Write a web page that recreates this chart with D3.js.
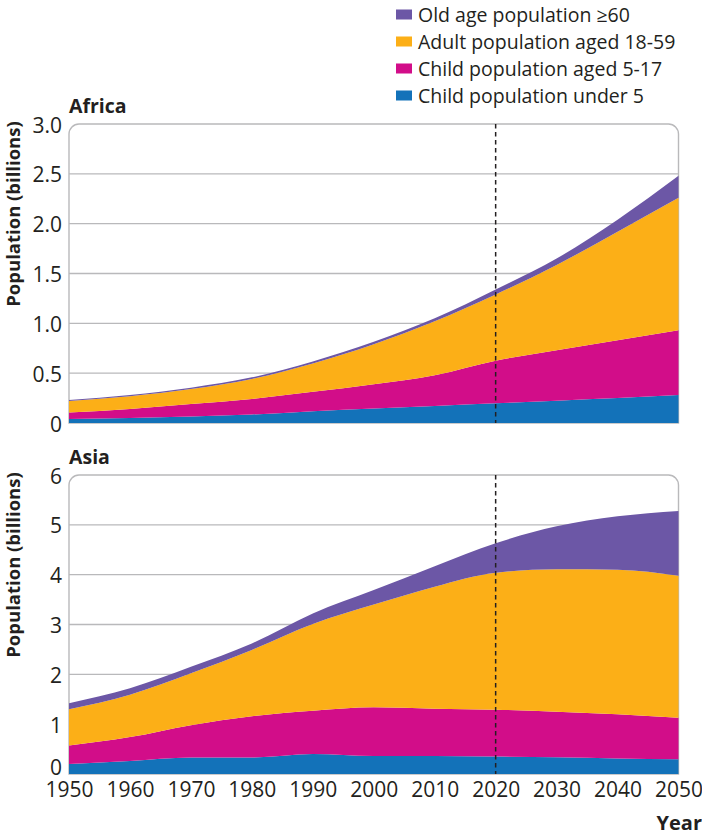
<!DOCTYPE html>
<html>
<head>
<meta charset="utf-8">
<script src="https://cdn.jsdelivr.net/npm/d3@7/dist/d3.min.js"></script>
<style>
  html, body { margin: 0; padding: 0; background: #fff; }
  svg { display: block; }
  text { font-family: "Open Sans", "DejaVu Sans", sans-serif; fill: #231f20; }
</style>
</head>
<body>
<svg id="chart" width="702" height="837"></svg>
<script>
// ---------- DATA ----------
const years = [1950, 1960, 1970, 1980, 1990, 2000, 2010, 2020, 2030, 2040, 2050];

// Africa (billions)
const africaUnder5   = [0.040, 0.050, 0.065, 0.085, 0.118, 0.145, 0.170, 0.197, 0.224, 0.250, 0.280];
const africaAged5_17 = [0.065, 0.090, 0.125, 0.157, 0.196, 0.245, 0.310, 0.428, 0.506, 0.580, 0.650];
const africaAdult    = [0.115, 0.128, 0.150, 0.200, 0.284, 0.400, 0.540, 0.665, 0.855, 1.090, 1.330];
const africaOld      = [0.010, 0.012, 0.014, 0.016, 0.020, 0.025, 0.030, 0.050, 0.065, 0.120, 0.220];

// Asia (billions)
const asiaUnder5   = [0.20, 0.26, 0.33, 0.33, 0.40, 0.36, 0.36, 0.35, 0.335, 0.31, 0.295];
const asiaAged5_17 = [0.37, 0.48, 0.65, 0.83, 0.87, 0.98, 0.95, 0.94, 0.915, 0.89, 0.835];
const asiaAdult    = [0.73, 0.85, 1.04, 1.33, 1.74, 2.06, 2.45, 2.75, 2.86, 2.90, 2.85];
const asiaOld      = [0.12, 0.13, 0.13, 0.13, 0.21, 0.29, 0.41, 0.59, 0.86, 1.07, 1.30];

const seriesKeys   = ["under5", "aged5_17", "adult", "old"];
const legendLabels = ["Old age population \u226560", "Adult population aged 18-59", "Child population aged 5-17", "Child population under 5"];
const legendKeys   = ["old", "adult", "aged5_17", "under5"];
const colors = { old: "#6c57a6", adult: "#fcaf17", aged5_17: "#d20d89", under5: "#1372b9" };

const xTicks = [1950, 1960, 1970, 1980, 1990, 2000, 2010, 2020, 2030, 2040, 2050];
const africaYTicks = [0, 0.5, 1.0, 1.5, 2.0, 2.5, 3.0];
const asiaYTicks   = [0, 1, 2, 3, 4, 5, 6];
const projectionYear = 2020;

// ---------- LAYOUT ----------
const svg = d3.select("#chart");
const left = 69, right = 678.5;
const x = d3.scaleLinear().domain([1950, 2050]).range([left, right]);

function rows(u5, c, a, o) {
  return years.map((yr, i) => ({ year: yr, under5: u5[i], aged5_17: c[i], adult: a[i], old: o[i] }));
}

function panel(cfg) {
  const g = svg.append("g");
  const y = d3.scaleLinear().domain([0, cfg.max]).range([cfg.bottom, cfg.top]);
  const r = 10;

  // gridlines
  g.selectAll("line.grid").data(cfg.ticks.filter(t => t > 0 && t < cfg.max)).join("line")
    .attr("x1", left).attr("x2", right)
    .attr("y1", d => y(d)).attr("y2", d => y(d))
    .attr("stroke", "#b9b9bb").attr("stroke-width", 1.4);

  // frame with rounded top corners
  g.append("path")
    .attr("d", `M${left},${cfg.bottom} V${cfg.top + r} A${r},${r} 0 0 1 ${left + r},${cfg.top} H${right - r} A${r},${r} 0 0 1 ${right},${cfg.top + r} V${cfg.bottom} Z`)
    .attr("fill", "none").attr("stroke", "#b9b9bb").attr("stroke-width", 1.4);

  // stacked areas
  const data = rows(...cfg.series);
  const stack = d3.stack().keys(seriesKeys)(data);
  const area = d3.area()
    .x(d => x(d.data.year))
    .y0(d => y(d[0])).y1(d => y(d[1]))
    .curve(d3.curveMonotoneX);
  g.selectAll("path.layer").data(stack).join("path")
    .attr("fill", d => colors[d.key])
    .attr("d", area);

  // dashed projection line
  g.append("line")
    .attr("x1", x(projectionYear)).attr("x2", x(projectionYear))
    .attr("y1", cfg.top).attr("y2", cfg.bottom)
    .attr("stroke", "#231f20").attr("stroke-width", 1.5).attr("stroke-dasharray", "4.5,3.5");

  // y tick labels
  const yAxis = d3.axisLeft(y).tickValues(cfg.ticks).tickSize(0).tickPadding(6)
    .tickFormat(cfg.fmt);
  const ya = g.append("g").attr("transform", `translate(${left},0)`).call(yAxis);
  ya.select(".domain").remove();
  ya.selectAll("text").attr("font-size", 21).attr("font-family", "'Open Sans', sans-serif")
    .attr("fill", "#231f20").attr("dx", -1)
    .attr("dy", d => (d === 0 ? (cfg.zeroShift || 0) : 0) + "px")
    .style("dominant-baseline", "central");

  // panel title
  g.append("text").attr("x", left).attr("y", cfg.top - 11)
    .attr("font-size", 19.5).attr("font-weight", 700).text(cfg.title);

  // y axis title
  g.append("text")
    .attr("transform", `translate(19.5,${cfg.top + 90}) rotate(-90)`)
    .attr("text-anchor", "middle").attr("font-size", 18.5).attr("font-weight", 700)
    .text("Population (billions)");
  return y;
}

panel({ title: "Africa", top: 124, bottom: 423, max: 3.0, ticks: africaYTicks,
        fmt: d => d === 0 ? "0" : d3.format(".1f")(d),
        series: [africaUnder5, africaAged5_17, africaAdult, africaOld] });

panel({ title: "Asia", top: 475, bottom: 774, max: 6, ticks: asiaYTicks, zeroShift: -8,
        fmt: d => String(d),
        series: [asiaUnder5, asiaAged5_17, asiaAdult, asiaOld] });

// x axis
const xa = svg.append("g").attr("transform", `translate(0,774)`)
  .call(d3.axisBottom(x).tickValues(xTicks).tickSize(0).tickPadding(8).tickFormat(d3.format("d")));
xa.select(".domain").remove();
xa.selectAll("text").attr("font-size", 21).attr("font-family", "'Open Sans', sans-serif").attr("fill", "#231f20");

svg.append("text").attr("x", 702).attr("y", 830).attr("text-anchor", "end")
  .attr("font-size", 20).attr("font-weight", 700).text("Year");

// legend
const lg = svg.append("g").attr("transform", "translate(396,0)");
const li = lg.selectAll("g").data(legendKeys).join("g")
  .attr("transform", (d, i) => `translate(0,${15 + i * 27})`);
li.append("rect").attr("x", 0).attr("y", -5.5).attr("width", 16).attr("height", 10)
  .attr("fill", d => colors[d]);
li.append("text").attr("x", 22).attr("y", 6.5).attr("font-size", 19.5)
  .text((d, i) => legendLabels[i]);
</script>
</body>
</html>
